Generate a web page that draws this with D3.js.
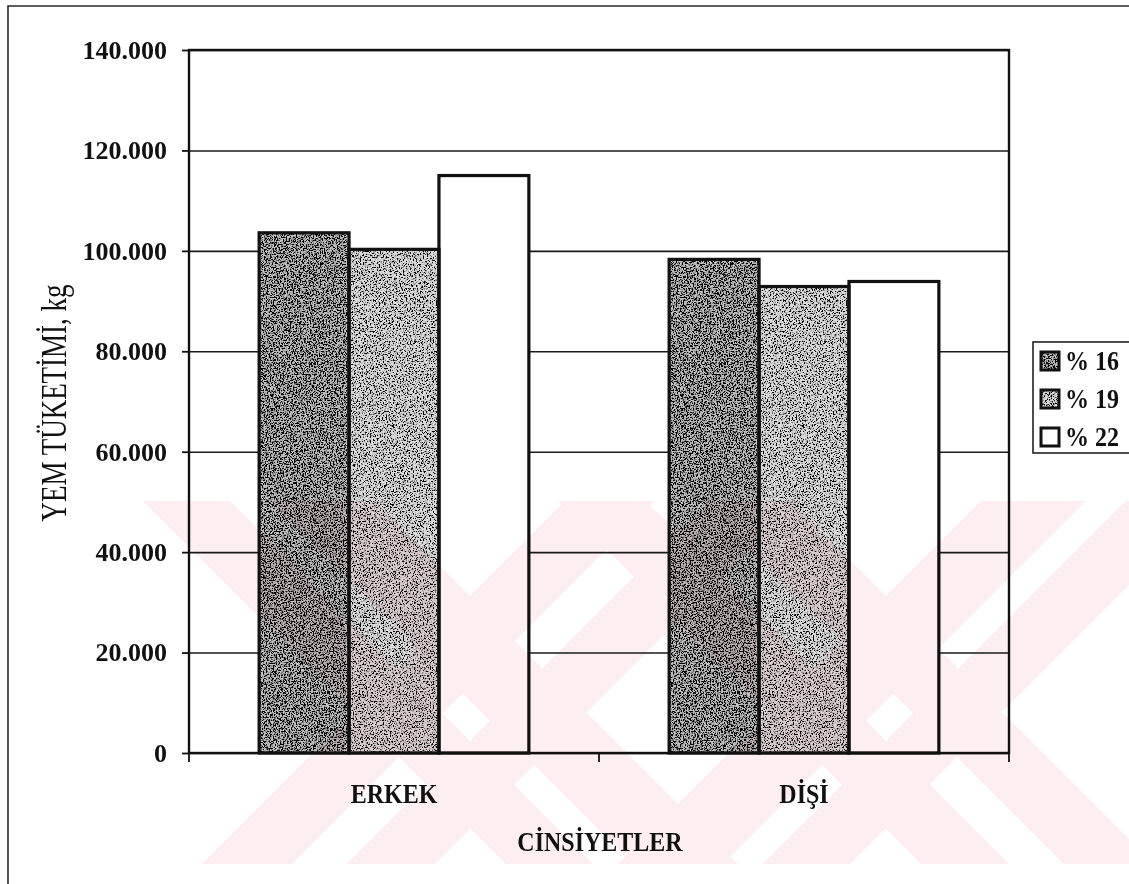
<!DOCTYPE html>
<html>
<head>
<meta charset="utf-8">
<script src="https://cdn.jsdelivr.net/npm/d3@7"></script>
<style>
  body { margin: 0; background: #fff; }
  svg { display: block; }
</style>
</head>
<body>
<svg id="chart" width="1129" height="884"></svg>
<script>
// Feed consumption (kg) by sex for three protein levels
const categories = ["ERKEK", "DİŞİ"];
const seriesNames = ["% 16", "% 19", "% 22"];
const feed16 = [103.6, 98.3];
const feed19 = [100.3, 92.9];
const feed22 = [115.0, 93.9];
const yTickValues = [0, 20, 40, 60, 80, 100, 120, 140];
const yTickLabels = ["0", "20.000", "40.000", "60.000", "80.000", "100.000", "120.000", "140.000"];
const yTitle = "YEM TÜKETİMİ,  kg";
const xTitle = "CİNSİYETLER";

const seriesValues = [feed16, feed19, feed22];
const rows = categories.map((c, i) => ({
  category: c,
  values: seriesNames.map((s, j) => ({ series: s, value: seriesValues[j][i] }))
}));

const svg = d3.select("#chart");
const serif = "'Liberation Serif','Times New Roman',serif";
const plot = { left: 189, right: 1009, top: 50, bottom: 753 };

const y = d3.scaleLinear().domain([0, 140]).range([plot.bottom, plot.top]);
const x0 = d3.scaleBand().domain(categories).range([plot.left, plot.right]);
const x1 = d3.scaleBand().domain(seriesNames).range([0, x0.bandwidth()])
  .paddingInner(0).paddingOuter(0.78);

// ---- stipple filters for the grey fills
const defs = svg.append("defs");
function grain(id, freq, k, b, seed) {
  const f = defs.append("filter").attr("id", id)
    .attr("x", 0).attr("y", 0).attr("width", "100%").attr("height", "100%");
  f.append("feTurbulence").attr("type", "fractalNoise").attr("baseFrequency", freq)
    .attr("numOctaves", 3).attr("seed", seed).attr("result", "noise");
  f.append("feColorMatrix").attr("in", "noise").attr("type", "matrix")
    .attr("values", `0 0 0 0 0  0 0 0 0 0  0 0 0 0 0  ${k} 0 0 0 ${b}`).attr("result", "dots");
  f.append("feComposite").attr("in", "dots").attr("in2", "SourceGraphic")
    .attr("operator", "in").attr("result", "clipped");
  const m = f.append("feMerge");
  m.append("feMergeNode").attr("in", "SourceGraphic");
  m.append("feMergeNode").attr("in", "clipped");
}
grain("grainDark", 0.7, -7, 4.0, 4);
grain("grainLight", 0.7, -7, 3.6, 9);

const fills = {
  "% 16": { base: "#c2c2c2", filter: "url(#grainDark)" },
  "% 19": { base: "#dcdcdc", filter: "url(#grainLight)" },
  "% 22": { base: "#ffffff", filter: null }
};

// ---- outer chart frame
svg.append("path")
  .attr("d", "M8,884 L8,6 L1129,6")
  .attr("fill", "none").attr("stroke", "#2a2a2a").attr("stroke-width", 1.6);

// ---- horizontal gridlines
svg.append("g")
  .attr("transform", `translate(${plot.left},0)`)
  .call(d3.axisLeft(y).tickValues(yTickValues).tickSize(-(plot.right - plot.left)).tickFormat(""))
  .call(g => g.select(".domain").remove())
  .call(g => g.selectAll("line").attr("stroke", "#1a1a1a").attr("stroke-width", 1.6));

// ---- bars
const groups = svg.append("g").selectAll("g").data(rows).join("g")
  .attr("transform", d => `translate(${x0(d.category)},0)`);

groups.selectAll("rect.fill").data(d => d.values).join("rect")
  .attr("class", "fill")
  .attr("x", d => x1(d.series))
  .attr("y", d => y(d.value))
  .attr("width", x1.bandwidth())
  .attr("height", d => y(0) - y(d.value))
  .attr("fill", d => fills[d.series].base)
  .attr("filter", d => fills[d.series].filter);

groups.selectAll("rect.edge").data(d => d.values).join("rect")
  .attr("class", "edge")
  .attr("x", d => x1(d.series))
  .attr("y", d => y(d.value))
  .attr("width", x1.bandwidth())
  .attr("height", d => y(0) - y(d.value))
  .attr("fill", "none").attr("stroke", "#111").attr("stroke-width", 3.2);

// ---- plot area border
svg.append("rect")
  .attr("x", plot.left).attr("y", plot.top)
  .attr("width", plot.right - plot.left).attr("height", plot.bottom - plot.top)
  .attr("fill", "none").attr("stroke", "#111").attr("stroke-width", 2.4);

// ---- value axis
const yAxis = svg.append("g")
  .attr("transform", `translate(${plot.left},0)`)
  .call(d3.axisLeft(y).tickValues(yTickValues).tickSize(7).tickPadding(15)
    .tickFormat((d, i) => yTickLabels[i]))
  .call(g => g.select(".domain").remove());
yAxis.selectAll("line").attr("stroke", "#111").attr("stroke-width", 1.8);
yAxis.selectAll("text")
  .attr("font-family", serif).attr("font-size", 26).attr("font-weight", "bold")
  .attr("fill", "#111");

// ---- category axis: ticks at band edges, labels at centres
const edges = [plot.left].concat(categories.map(c => x0(c) + x0.bandwidth()));
svg.append("g").selectAll("line").data(edges).join("line")
  .attr("x1", d => d).attr("x2", d => d)
  .attr("y1", plot.bottom).attr("y2", plot.bottom + 9)
  .attr("stroke", "#111").attr("stroke-width", 1.8);

svg.append("g").selectAll("text").data(categories).join("text")
  .attr("transform", d => `translate(${x0(d) + x0.bandwidth() / 2},803) scale(1,1.1)`)
  .attr("text-anchor", "middle")
  .attr("font-family", serif).attr("font-size", 24).attr("font-weight", "bold")
  .attr("fill", "#111")
  .text(d => d);

// ---- axis titles
svg.append("text")
  .attr("transform", "translate(600,851) scale(1,1.1)")
  .attr("text-anchor", "middle")
  .attr("font-family", serif).attr("font-size", 24).attr("font-weight", "bold")
  .attr("fill", "#111")
  .text(xTitle);

svg.append("text")
  .attr("transform", "translate(66,403) rotate(-90) scale(1,1.35)")
  .attr("text-anchor", "middle")
  .attr("font-family", serif).attr("font-size", 27)
  .attr("fill", "#111")
  .text(yTitle);

// ---- legend
const legend = svg.append("g");
legend.append("rect")
  .attr("x", 1033).attr("y", 342).attr("width", 120).attr("height", 111)
  .attr("fill", "#fff").attr("stroke", "#222").attr("stroke-width", 1.6);
const rowY = d3.scalePoint().domain(seriesNames).range([361, 437]);
const item = legend.selectAll("g.item").data(seriesNames).join("g").attr("class", "item")
  .attr("transform", d => `translate(1041,${rowY(d)})`);
item.append("rect")
  .attr("x", 0).attr("y", -9).attr("width", 18).attr("height", 18)
  .attr("fill", d => fills[d].base).attr("filter", d => fills[d].filter);
item.append("rect")
  .attr("x", 0).attr("y", -9).attr("width", 18).attr("height", 18)
  .attr("fill", "none").attr("stroke", "#111").attr("stroke-width", 3);
item.append("text")
  .attr("transform", "translate(24,9) scale(1,1.1)")
  .attr("font-family", serif).attr("font-size", 24).attr("font-weight", "bold")
  .attr("fill", "#111")
  .text(d => d);

// ---- faint diagonal watermark stripes, multiplied over the drawing
const wm = { x0: 140, x1: 1129, y0: 501, y1: 864 };
defs.append("clipPath").attr("id", "wmClip").append("rect")
  .attr("x", wm.x0).attr("y", wm.y0).attr("width", wm.x1 - wm.x0).attr("height", wm.y1 - wm.y0);
const downBands = [[-358, -271], [-231, -126], [57, 145], [200, 290]];
const upBands = [[1066, 1156], [1211, 1299], [1482, 1587], [1627, 1714]];
const polys = [];
downBands.forEach(([a, b]) => polys.push([[a + wm.y0, wm.y0], [b + wm.y0, wm.y0], [b + wm.y1, wm.y1], [a + wm.y1, wm.y1]]));
upBands.forEach(([a, b]) => polys.push([[a - wm.y0, wm.y0], [b - wm.y0, wm.y0], [b - wm.y1, wm.y1], [a - wm.y1, wm.y1]]));
svg.append("g")
  .attr("clip-path", "url(#wmClip)")
  .style("mix-blend-mode", "multiply")
  .selectAll("path").data(polys).join("path")
  .attr("d", d => "M" + d.map(p => p.join(",")).join("L") + "Z")
  .attr("fill", "#fdeef1");
</script>
</body>
</html>
